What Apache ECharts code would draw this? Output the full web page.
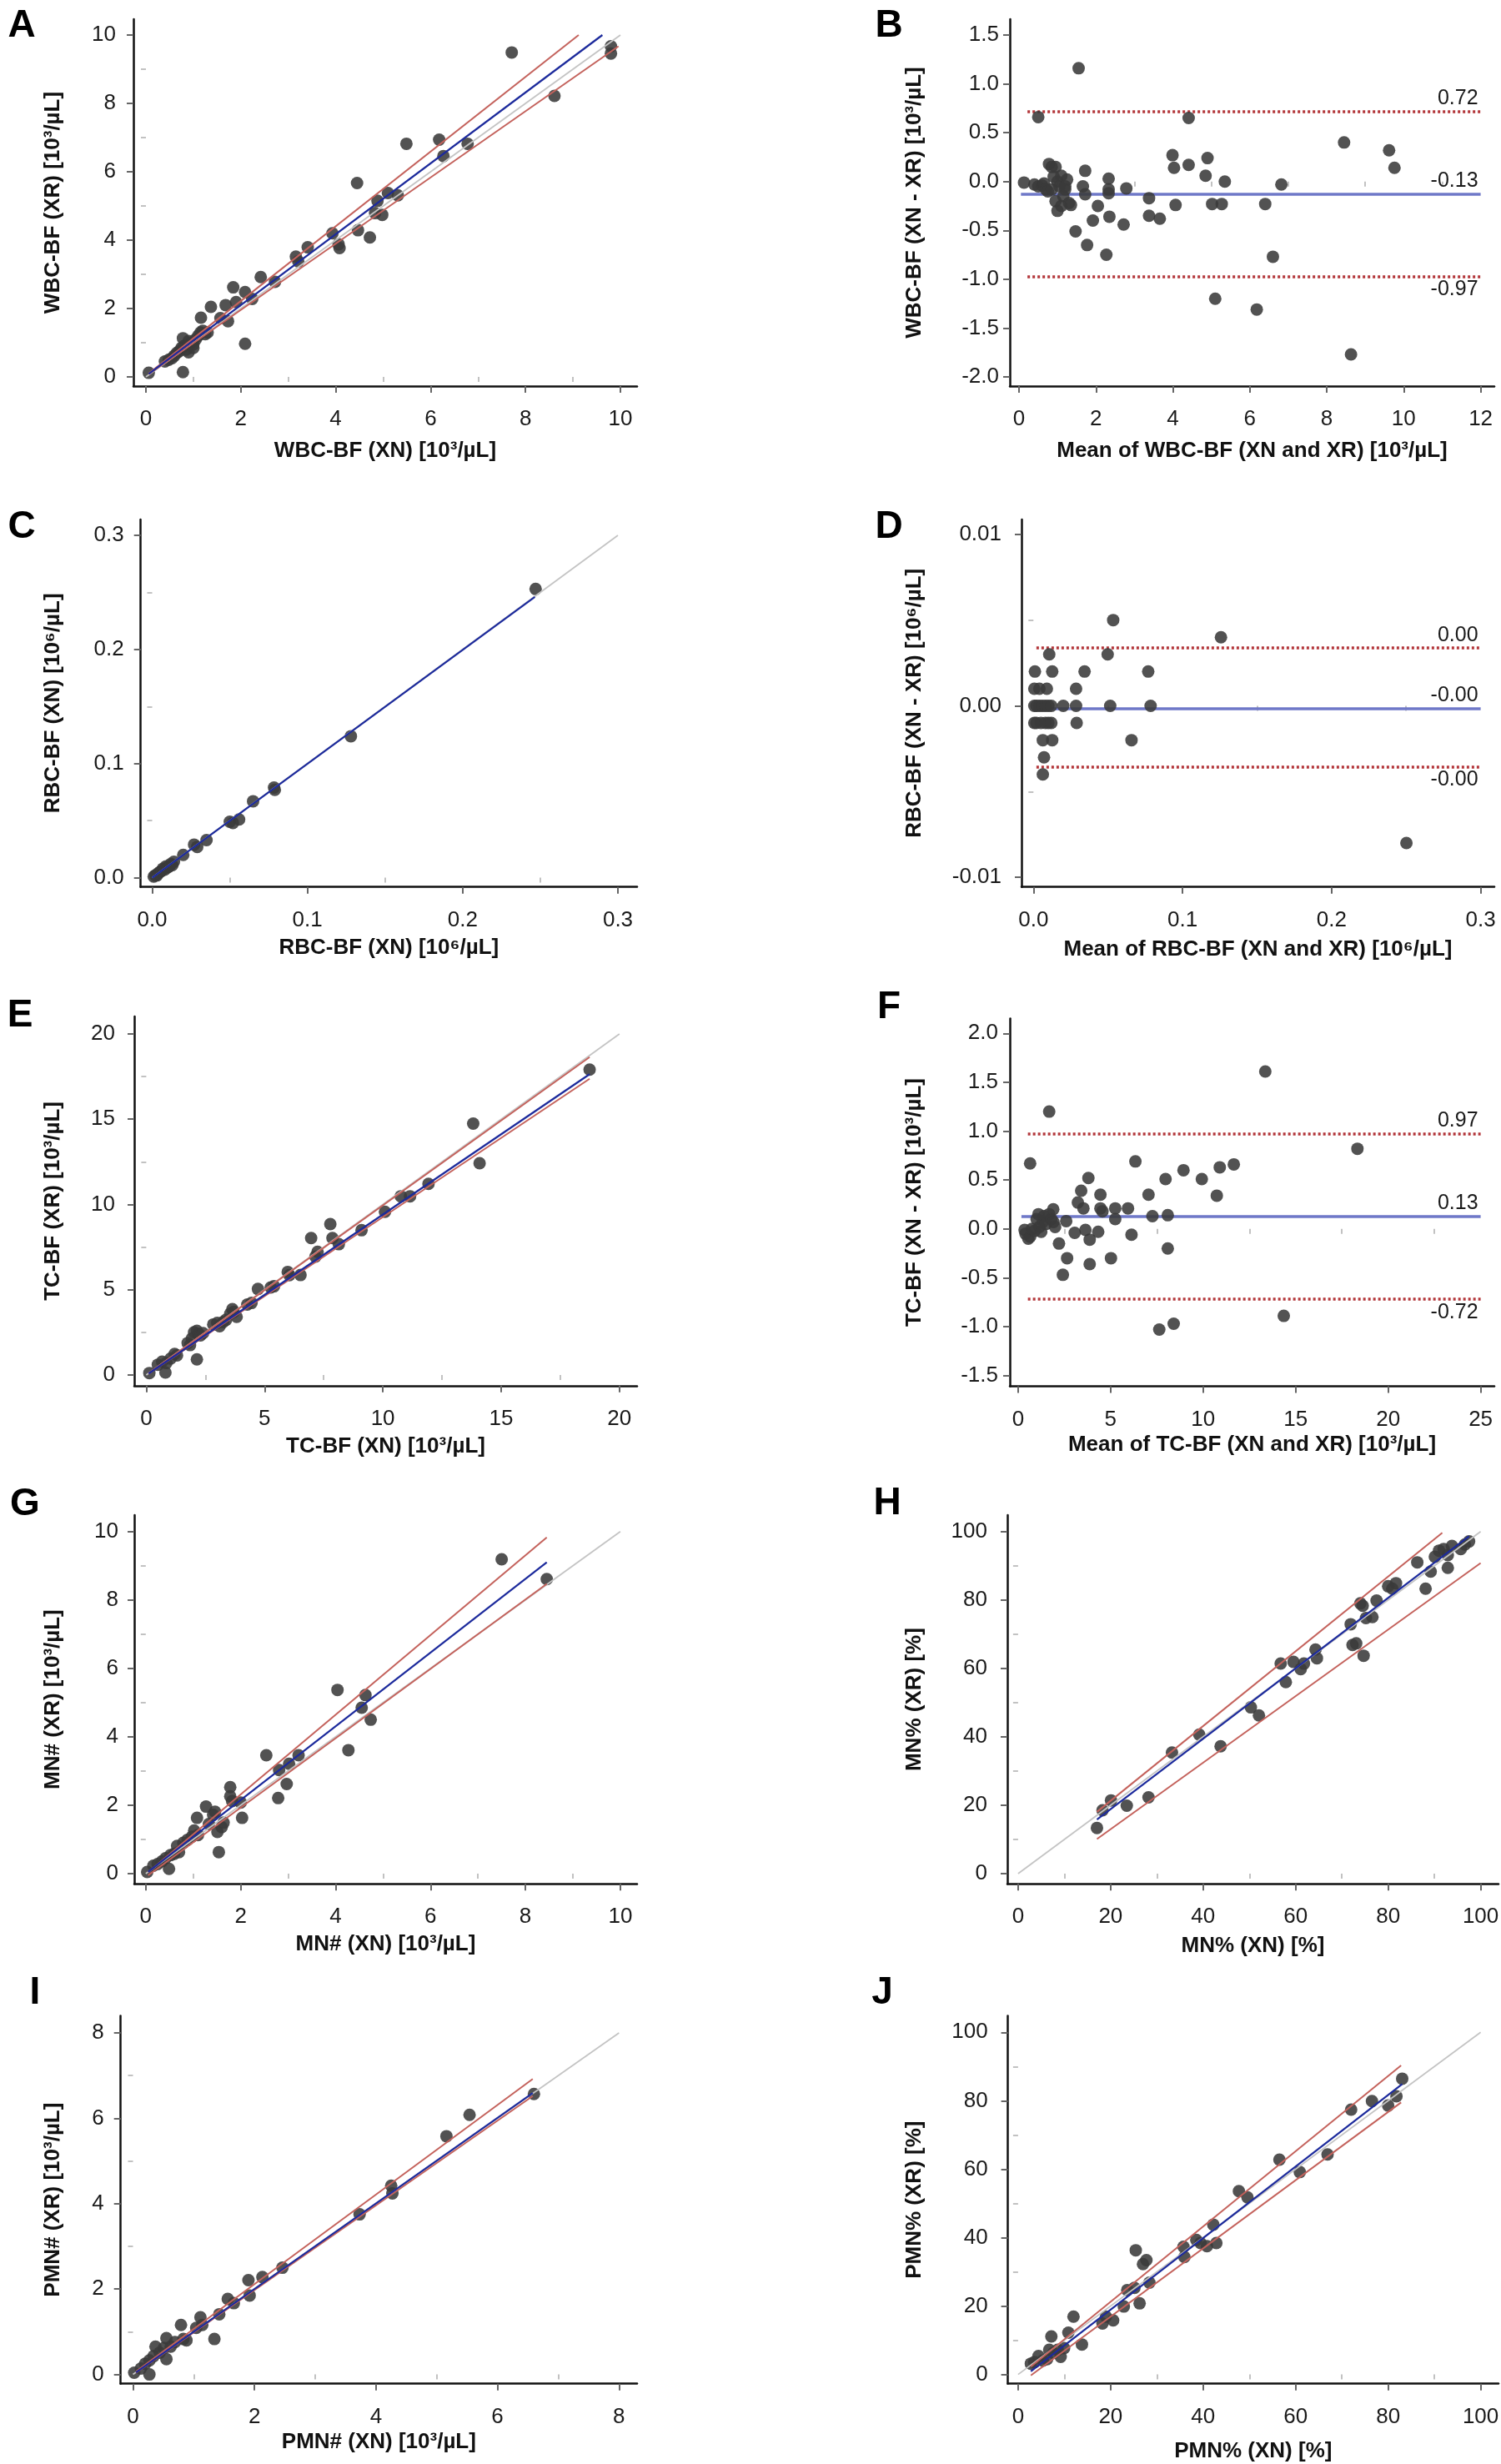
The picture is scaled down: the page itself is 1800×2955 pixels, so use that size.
<!DOCTYPE html>
<html><head><meta charset="utf-8">
<script src="https://cdn.jsdelivr.net/npm/echarts@6/dist/echarts.min.js"></script>
<style>html,body{margin:0;padding:0;background:#fff}#c{width:1800px;height:2955px}</style>
</head><body><div id="c"></div><script>
// ---------------- DATA ----------------
// A: WBC-BF XN vs XR
const wbcXY = [[0.06,0.12],[0.78,0.14],[0.78,1.13],[0.40,0.45],[0.48,0.50],[0.55,0.55],[0.60,0.62],[0.65,0.70],[0.70,0.75],[0.75,0.85],[0.80,0.90],[0.85,0.80],[0.90,0.72],[0.95,1.00],[1.00,0.95],[1.05,1.10],[1.10,1.20],[1.15,1.30],[1.20,1.35],[1.25,1.25],[1.00,0.85],[0.90,1.05],[1.30,1.30],[1.16,1.73],[1.37,2.05],[1.57,1.72],[1.68,2.10],[1.73,1.63],[1.84,2.62],[1.90,2.19],[2.09,2.48],[2.09,0.97],[2.24,2.28],[2.42,2.92],[2.72,2.78],[3.16,3.52],[3.21,3.38],[3.41,3.79],[3.93,4.20],[4.06,3.88],[4.08,3.77],[4.45,5.67],[4.47,4.29],[4.72,4.08],[4.83,4.79],[4.88,5.15],[4.98,4.74],[5.10,5.38],[5.31,5.31],[5.49,6.82],[6.18,6.94],[6.27,6.46],[6.78,6.82],[7.71,9.49],[8.61,8.22],[9.80,9.67],[9.80,9.46]];
const wbcFit = [[0.06,0.09],[9.62,10.0]];
const wbcUpper = [[0.06,0.10],[9.12,10.0]];
const wbcLower = [[0.06,0.08],[9.96,9.67]];
const wbcIdentity = [[0,0],[10,10]];
// B: WBC-BF Bland-Altman
const wbcBA = [[0.13,-0.01],[0.50,0.66],[1.55,1.16],[0.40,-0.03],[0.50,-0.05],[0.60,-0.04],[0.65,-0.02],[0.70,-0.08],[0.75,-0.10],[0.78,0.18],[0.85,0.15],[0.90,0.05],[0.95,0.15],[1.00,0.00],[1.05,-0.05],[1.10,0.06],[0.95,-0.20],[1.00,-0.30],[1.10,-0.25],[1.15,-0.15],[1.20,-0.08],[1.25,0.02],[1.30,-0.22],[1.35,-0.24],[0.85,-0.08],[1.20,-0.05],[1.72,0.11],[1.66,-0.05],[1.72,-0.13],[1.47,-0.51],[1.77,-0.65],[1.92,-0.40],[2.05,-0.25],[2.33,0.03],[2.33,-0.08],[2.33,-0.12],[2.35,-0.36],[2.27,-0.75],[2.72,-0.44],[2.79,-0.07],[3.38,-0.17],[3.38,-0.35],[3.66,-0.38],[3.99,0.27],[4.03,0.14],[4.07,-0.24],[4.41,0.17],[4.41,0.65],[4.90,0.24],[4.85,0.06],[5.02,-0.23],[5.10,-1.20],[5.27,-0.23],[5.35,0.00],[6.18,-1.31],[6.40,-0.23],[6.60,-0.77],[6.82,-0.03],[8.45,0.40],[8.63,-1.77],[9.62,0.32],[9.76,0.14]];
const wbcLines = [0.72, -0.13, -0.97]; // upper LoA, mean, lower LoA
const wbcLineX = [[0.22,12],[0.05,12],[0.22,12]];
// C: RBC-BF
const rbcXY = [[0.001,0.001],[0.002,0.002],[0.003,0.002],[0.004,0.004],[0.005,0.005],[0.006,0.006],[0.007,0.008],[0.008,0.007],[0.009,0.010],[0.010,0.009],[0.011,0.010],[0.012,0.012],[0.013,0.011],[0.014,0.014],[0.020,0.020],[0.027,0.029],[0.029,0.027],[0.035,0.033],[0.050,0.049],[0.052,0.048],[0.056,0.051],[0.065,0.067],[0.079,0.077],[0.0785,0.079],[0.128,0.124],[0.247,0.253]];
const rbcFit = [[0.0,0.0],[0.2465,0.246]];
const rbcIdentity = [[0,0],[0.3,0.3]];
// D: RBC-BF Bland-Altman
const rbcBA = [[0.001,0.002],[0.0126,0.002],[0.0343,0.002],[0.077,0.002],[0.0106,0.003],[0.0498,0.003],[0.0006,0.001],[0.004,0.001],[0.009,0.001],[0.0286,0.001],[0.0006,0],[0.002,0],[0.004,0],[0.006,0],[0.008,0],[0.010,0],[0.012,0],[0.020,0],[0.0286,0],[0.0515,0],[0.0786,0],[0.0006,-0.001],[0.002,-0.001],[0.005,-0.001],[0.008,-0.001],[0.010,-0.001],[0.012,-0.001],[0.029,-0.001],[0.0063,-0.002],[0.0126,-0.002],[0.0658,-0.002],[0.0071,-0.003],[0.0063,-0.004],[0.0535,0.005],[0.1258,0.004],[0.2502,-0.008]];
const rbcLines = [0.00337, -0.00014, -0.00357];
const rbcLineX = [[0.002,0.3],[0.0,0.3],[0.002,0.3]];
// E: TC-BF
const tcXY = [[0.13,0.11],[0.81,0.14],[0.49,0.60],[0.67,0.78],[0.85,0.70],[1.03,0.96],[1.20,1.23],[1.30,1.15],[1.75,1.87],[1.85,1.75],[1.93,2.14],[2.02,2.50],[2.14,2.59],[2.20,2.40],[2.29,2.32],[2.40,2.45],[2.14,0.91],[2.83,2.96],[3.00,3.05],[3.10,2.86],[3.25,3.10],[3.37,3.23],[3.55,3.59],[3.64,3.86],[3.70,3.70],[3.82,3.41],[4.27,4.13],[4.45,4.22],[4.72,5.04],[5.26,5.13],[5.40,5.20],[5.98,6.04],[6.05,5.85],[6.52,5.86],[6.97,8.03],[7.15,6.94],[7.24,7.22],[7.78,8.85],[7.87,8.03],[8.14,7.67],[9.10,8.49],[10.09,9.57],[10.76,10.48],[11.15,10.48],[11.93,11.21],[13.82,14.74],[14.09,12.42],[18.74,17.91]];
const tcFit = [[0.10,0.08],[18.74,17.64]];
const tcUpper = [[0.10,0.10],[18.74,18.64]];
const tcLower = [[0.10,0.07],[18.74,17.37]];
const tcIdentity = [[0,0],[20,20]];
// F: TC-BF Bland-Altman
const tcBA = [[0.35,-0.01],[0.65,0.67],[0.65,-0.08],[0.40,-0.05],[0.55,-0.10],[0.75,0.00],[0.90,-0.02],[1.00,0.10],[1.10,0.15],[1.15,0.02],[1.25,-0.03],[1.34,0.07],[1.40,0.13],[1.50,0.05],[1.68,1.20],[1.68,0.15],[1.80,0.10],[1.90,0.20],[1.91,0.07],[2.00,0.02],[2.21,-0.15],[2.42,-0.47],[2.60,0.08],[2.65,-0.30],[3.06,-0.04],[3.23,0.27],[3.41,0.39],[3.53,0.21],[3.64,-0.01],[3.80,0.52],[3.87,-0.36],[3.87,-0.11],[4.33,-0.03],[4.45,0.35],[4.45,0.21],[4.56,0.18],[5.02,-0.30],[5.25,0.21],[5.25,0.10],[5.94,0.21],[6.13,-0.06],[6.34,0.69],[7.05,0.35],[7.26,0.13],[7.63,-1.03],[7.97,0.51],[8.09,0.14],[8.09,-0.20],[8.41,-0.97],[8.94,0.60],[9.93,0.51],[10.74,0.34],[10.90,0.63],[11.66,0.66],[13.36,1.61],[14.36,-0.89],[18.34,0.82]];
const tcLines = [0.97, 0.13, -0.72];
const tcLineX = [[0.53,25],[0.18,25],[0.53,25]];
// G: MN#
const mnXY = [[0.03,0.05],[0.49,0.14],[0.16,0.23],[0.25,0.28],[0.34,0.36],[0.42,0.45],[0.52,0.54],[0.60,0.58],[0.66,0.81],[0.70,0.63],[0.79,0.90],[0.88,0.99],[0.97,1.08],[1.02,1.26],[1.08,1.63],[1.10,1.13],[1.27,1.96],[1.33,1.45],[1.42,1.72],[1.46,1.81],[1.51,1.22],[1.54,0.63],[1.60,1.36],[1.64,1.49],[1.78,2.53],[1.78,2.26],[1.82,2.12],[2.00,2.08],[2.03,1.63],[2.54,3.46],[2.79,2.21],[2.81,3.03],[2.97,2.62],[3.02,3.21],[3.22,3.46],[4.04,5.37],[4.27,3.61],[4.55,4.85],[4.63,5.22],[4.74,4.50],[7.50,9.19],[8.45,8.61]];
const mnFit = [[0.05,0.05],[8.45,9.10]];
const mnUpper = [[0.05,0.04],[8.45,9.83]];
const mnLower = [[0.05,-0.05],[8.45,8.47]];
const mnIdentity = [[0,0],[10,10]];
// H: MN%
const mnPctXY = [[17.05,13.37],[18.25,18.52],[20.09,21.41],[23.5,19.87],[28.2,22.31],[33.27,35.41],[39.17,40.65],[43.78,37.22],[50.32,48.6],[52.07,46.25],[56.77,61.43],[57.88,56.0],[59.54,61.88],[61.1,59.8],[61.8,61.4],[64.3,65.5],[64.6,62.96],[71.9,72.9],[72.3,66.85],[73.1,67.3],[74.0,79.0],[74.5,78.3],[74.7,63.7],[75.2,74.7],[76.6,75.0],[77.5,79.8],[80.0,84.0],[81.7,84.9],[80.9,83.3],[86.3,91.0],[88.1,83.3],[89.2,88.3],[90.1,92.6],[91.0,94.4],[92.9,89.4],[92.0,94.9],[92.9,93.1],[93.8,95.8],[95.7,94.9],[96.6,96.2],[97.5,97.1]];
const mnPctFit = [[17.05,15.8],[97.5,98.6]];
const mnPctUpper = [[17.05,18.07],[91.7,99.6]];
const mnPctLower = [[17.05,10.1],[100,90.8]];
const mnPctIdentity = [[0,0],[100,100]];
// I: PMN#
const pmnXY = [[0.02,0.04],[0.13,0.14],[0.20,0.25],[0.27,0.00],[0.27,0.33],[0.34,0.43],[0.37,0.65],[0.44,0.51],[0.51,0.62],[0.55,0.36],[0.55,0.85],[0.62,0.65],[0.69,0.76],[0.79,1.16],[0.83,0.83],[0.88,0.80],[1.04,1.09],[1.11,1.34],[1.14,1.16],[1.34,0.83],[1.42,1.41],[1.56,1.77],[1.66,1.67],[1.90,2.21],[1.92,1.85],[2.13,2.28],[2.46,2.50],[3.73,3.75],[4.25,4.42],[4.27,4.24],[5.16,5.58],[5.54,6.08],[6.60,6.57]];
const pmnFit = [[0.05,0.05],[6.58,6.59]];
const pmnUpper = [[0.05,0.07],[6.58,6.92]];
const pmnLower = [[0.05,0.04],[6.58,6.52]];
const pmnIdentity = [[0,0],[8,8]];
// J: PMN%
const pmnPctXY = [[2.76,3.16],[3.5,3.6],[4.42,5.4],[5.35,4.07],[6.27,4.5],[6.73,7.2],[7.19,11.1],[7.65,6.3],[8.57,7.2],[9.2,5.15],[9.95,7.7],[10.87,12.2],[11.98,16.9],[13.8,8.76],[18.25,14.9],[19.0,16.9],[20.55,15.8],[22.86,19.87],[23.6,24.66],[25.16,25.3],[25.44,36.3],[26.27,20.78],[27.0,32.25],[27.74,33.42],[28.39,26.83],[35.76,37.3],[35.95,34.33],[38.53,39.3],[39.45,38.4],[40.83,37.5],[42.2,43.8],[42.86,38.4],[47.74,53.57],[49.6,51.76],[56.5,62.8],[60.9,59.17],[66.9,64.3],[72.0,77.4],[76.5,79.9],[80.0,78.6],[81.8,81.3],[83.04,86.45]];
const pmnPctFit = [[2.76,0.9],[83.04,84.9]];
const pmnPctUpper = [[2.76,2.26],[82.8,90.3]];
const pmnPctLower = [[2.76,-0.27],[82.8,79.5]];
const pmnPctIdentity = [[0,0],[100,100]];

// tick values
const ticks0to10 = [0,2,4,6,8,10], minor0to10 = [1,3,5,7,9];
const ticks0to12 = [0,2,4,6,8,10,12], minor0to12 = [1,3,5,7,9,11];
const ticksBA15 = [-2,-1.5,-1,-0.5,0,0.5,1,1.5];
const ticks03 = [0,0.1,0.2,0.3], minor03 = [0.05,0.15,0.25];
const ticksD = [-0.01,0,0.01], minorD = [-0.005,0.005];
const ticks0to20 = [0,5,10,15,20], minor0to20 = [2.5,7.5,12.5,17.5];
const ticks0to25 = [0,5,10,15,20,25], minor0to25 = [2.5,7.5,12.5,17.5,22.5];
const ticksF = [-1.5,-1,-0.5,0,0.5,1,1.5,2];
const ticks0to100 = [0,20,40,60,80,100], minor0to100 = [10,30,50,70,90];
const ticks0to8 = [0,2,4,6,8], minor0to8 = [1,3,5,7];

// ---------------- LAYOUT ----------------
const FONT = 'Liberation Sans, Arial, sans-serif';
const C_PT = '#3a3a3a', C_FIT = '#1c2a9c', C_CI = '#c4625c', C_ID = '#c4c4c4', C_MEAN = '#6f78c8', C_LOA = '#b3363a';

// pixel layout: [v0, p0, v1, p1, axisStartPx, axisEndPx]
const panels = [
 {L:'A', lx:26, ly:31, x:[0,175,10,744,160,764], y:[0,452,10,42,463,23], xt:ticks0to10, xm:minor0to10, xd:0, yt:ticks0to10, ym:minor0to10, yd:0,
  xn:'WBC-BF (XN) [10³/µL]', yn:'WBC-BF (XR) [10³/µL]', xg:65, yg:83, ym2:21},
 {L:'B', lx:1066, ly:31, x:[0,1222,12,1775.6,1211,1792], y:[-2,452,1.5,42,463,23], xt:ticks0to12, xm:minor0to12, xd:0, yt:ticksBA15, ym:[], yd:1,
  xn:'Mean of WBC-BF (XN and XR) [10³/µL]', yn:'WBC-BF (XN - XR) [10³/µL]', xg:65, yg:101, ym2:13},
 {L:'C', lx:26, ly:632, x:[0,182.5,0.3,741,168.7,764], y:[0,1052.6,0.3,642,1063.7,623], xt:ticks03, xm:minor03, xd:1, yt:ticks03, ym:minor03, yd:1,
  xn:'RBC-BF (XN) [10⁶/µL]', yn:'RBC-BF (XN) [10⁶/µL]', xg:60, yg:92, ym2:20},
 {L:'D', lx:1066, ly:632, x:[0,1239.3,0.3,1775.6,1225,1792], y:[-0.01,1052.2,0.01,640.8,1063.7,623], xt:ticks03, xm:minor03, xd:1, yt:ticksD, ym:minorD, yd:2,
  xn:'Mean of RBC-BF (XN and XR) [10⁶/µL]', yn:'RBC-BF (XN - XR) [10⁶/µL]', xg:62, yg:115, ym2:24},
 {L:'E', lx:24, ly:1218, x:[0,175.4,20,742.8,161,764], y:[0,1648.9,20,1240,1661.8,1219], xt:ticks0to20, xm:minor0to20, xd:0, yt:ticks0to20, ym:minor0to20, yd:0,
  xn:'TC-BF (XN) [10³/µL]', yn:'TC-BF (XR) [10³/µL]', xg:60, yg:84, ym2:23},
 {L:'F', lx:1066, ly:1208, x:[0,1220.9,25,1775.6,1211,1792], y:[-1.5,1649.6,2,1239.3,1662.6,1221.5], xt:ticks0to25, xm:minor0to25, xd:0, yt:ticksF, ym:[], yd:1,
  xn:'Mean of TC-BF (XN and XR) [10³/µL]', yn:'TC-BF (XN - XR) [10³/µL]', xg:57, yg:101, ym2:14},
 {L:'G', lx:30, ly:1804, x:[0,174.8,10,743.9,161,764], y:[0,2247,10,1836.7,2259.2,1817], xt:ticks0to10, xm:minor0to10, xd:0, yt:ticks0to10, ym:minor0to10, yd:0,
  xn:'MN# (XN) [10³/µL]', yn:'MN# (XR) [10³/µL]', xg:60, yg:84, ym2:19},
 {L:'H', lx:1064, ly:1803, x:[0,1220.9,100,1775.6,1208,1797], y:[0,2247,100,1836.7,2259.2,1817], xt:ticks0to100, xm:minor0to100, xd:0, yt:ticks0to100, ym:minor0to100, yd:0,
  xn:'MN% (XN) [%]', yn:'MN% (XR) [%]', xg:62, yg:98, ym2:24},
 {L:'I', lx:42, ly:2390, x:[0,159.5,8,742.3,144.7,764], y:[0,2847.6,8,2438,2858.7,2417.6], xt:ticks0to8, xm:minor0to8, xd:0, yt:ticks0to8, ym:minor0to8, yd:0,
  xn:'PMN# (XN) [10³/µL]', yn:'PMN# (XR) [10³/µL]', xg:57, yg:68, ym2:20},
 {L:'J', lx:1058, ly:2390, x:[0,1220.9,100,1775.6,1208.6,1797], y:[0,2847.6,100,2437.3,2858.7,2417.6], xt:ticks0to100, xm:minor0to100, xd:0, yt:ticks0to100, ym:minor0to100, yd:0,
  xn:'PMN% (XN) [%]', yn:'PMN% (XR) [%]', xg:68, yg:99, ym2:24}
];

function range(a){ const k=(a[2]-a[0])/(a[3]-a[1]); return {min:a[0]+(a[4]-a[1])*k, max:a[0]+(a[5]-a[1])*k}; }

const grids=[], xAxes=[], yAxes=[], series=[], graphics=[];
const labelStyle = {color:'#1a1a1a', fontSize:26, fontFamily:FONT};
const nameStyle = {color:'#111', fontSize:26, fontWeight:'bold', fontFamily:FONT};

panels.forEach((p,i)=>{
  const xr = range(p.x), yr = range(p.y);
  grids.push({left:p.x[4], top:p.y[5], width:p.x[5]-p.x[4], height:p.y[4]-p.y[5], outerBoundsMode:'none', containLabel:false});
  const common = {type:'value', gridIndex:i, splitLine:{show:false}, scale:false};
  xAxes.push(Object.assign({}, common, {min:xr.min, max:xr.max, position:'bottom',
    axisLine:{show:true,onZero:false,lineStyle:{color:'#111',width:2.5}},
    axisTick:{show:true, customValues:p.xt, length:8, lineStyle:{color:'#666',width:2}},
    axisLabel:Object.assign({customValues:p.xt, margin:27, formatter:v=>Number(v).toFixed(p.xd)}, labelStyle),
    name:p.xn, nameLocation:'middle', nameGap:p.xg, nameTextStyle:nameStyle, nameMoveOverlap:false}));
  xAxes.push(Object.assign({}, common, {min:xr.min, max:xr.max, position:'bottom',
    axisLine:{show:false}, axisLabel:{show:false},
    axisTick:{show:p.xm.length>0, customValues:p.xm.length?p.xm:[xr.min], length:6, lineStyle:{color:'#c2c2c2',width:2}}}));
  yAxes.push(Object.assign({}, common, {min:yr.min, max:yr.max, position:'left',
    axisLine:{show:true,onZero:false,lineStyle:{color:'#111',width:2.5}},
    axisTick:{show:true, customValues:p.yt, length:8, lineStyle:{color:'#666',width:2}},
    axisLabel:Object.assign({customValues:p.yt, margin:p.ym2, formatter:v=>Number(v).toFixed(p.yd)}, labelStyle),
    name:p.yn, nameLocation:'middle', nameGap:p.yg, nameTextStyle:nameStyle, nameMoveOverlap:false}));
  yAxes.push(Object.assign({}, common, {min:yr.min, max:yr.max, position:'left',
    axisLine:{show:false}, axisLabel:{show:false},
    axisTick:{show:p.ym.length>0, customValues:p.ym.length?p.ym:[yr.min], length:6, lineStyle:{color:'#c2c2c2',width:2}}}));
  graphics.push({type:'text', x:p.lx, y:p.ly, style:{text:p.L, font:'bold 46px '+FONT, fill:'#000', align:'center', verticalAlign:'middle'}});
});

function scatter(i, data, extra){
  return Object.assign({type:'scatter', xAxisIndex:2*i, yAxisIndex:2*i, data, symbolSize:15,
    itemStyle:{color:C_PT, opacity:0.88}, z:2, animation:false, silent:true}, extra||{});
}
function seg(i, data, color, width, z){
  return {type:'line', xAxisIndex:2*i, yAxisIndex:2*i, data, symbol:'none', showSymbol:false,
    lineStyle:{color, width}, z, silent:true, animation:false, clip:true};
}
function methodPanel(i, pts, identity, lower, upper, fit){
  series.push(scatter(i, pts));
  series.push(seg(i, identity, C_ID, 1.8, 3));
  if (lower) series.push(seg(i, lower, C_CI, 2, 4));
  if (upper) series.push(seg(i, upper, C_CI, 2, 4));
  series.push(seg(i, fit, C_FIT, 2.2, 5));
}
function baPanel(i, pts, lines, xs){
  const mk = (v, xx, isMean, pos) => [
    {coord:[xx[0], v], lineStyle:isMean?{color:C_MEAN,width:3.5,type:'solid'}:{color:C_LOA,width:3.5,type:[3,3]},
     label:{show:true, formatter:v.toFixed(2), position:pos, distance:3, color:'#1a1a1a', fontSize:25, fontFamily:FONT}},
    {coord:[xx[1], v]}];
  series.push(scatter(i, pts, {markLine:{silent:true, symbol:['none','none'], animation:false, z:1,
    data:[mk(lines[0], xs[0], false, 'insideEndTop'), mk(lines[1], xs[1], true, 'insideEndTop'), mk(lines[2], xs[2], false, 'insideEndBottom')]}}));
}

methodPanel(0, wbcXY, wbcIdentity, wbcLower, wbcUpper, wbcFit);
baPanel(1, wbcBA, wbcLines, wbcLineX);
methodPanel(2, rbcXY, rbcIdentity, null, null, rbcFit);
baPanel(3, rbcBA, rbcLines, rbcLineX);
methodPanel(4, tcXY, tcIdentity, tcLower, tcUpper, tcFit);
baPanel(5, tcBA, tcLines, tcLineX);
methodPanel(6, mnXY, mnIdentity, mnLower, mnUpper, mnFit);
methodPanel(7, mnPctXY, mnPctIdentity, mnPctLower, mnPctUpper, mnPctFit);
methodPanel(8, pmnXY, pmnIdentity, pmnLower, pmnUpper, pmnFit);
methodPanel(9, pmnPctXY, pmnPctIdentity, pmnPctLower, pmnPctUpper, pmnPctFit);

const chart = echarts.init(document.getElementById('c'), null, {renderer:'canvas'});
chart.setOption({backgroundColor:'#fff', animation:false, grid:grids, xAxis:xAxes, yAxis:yAxes, series, graphic:graphics});
</script></body></html>
